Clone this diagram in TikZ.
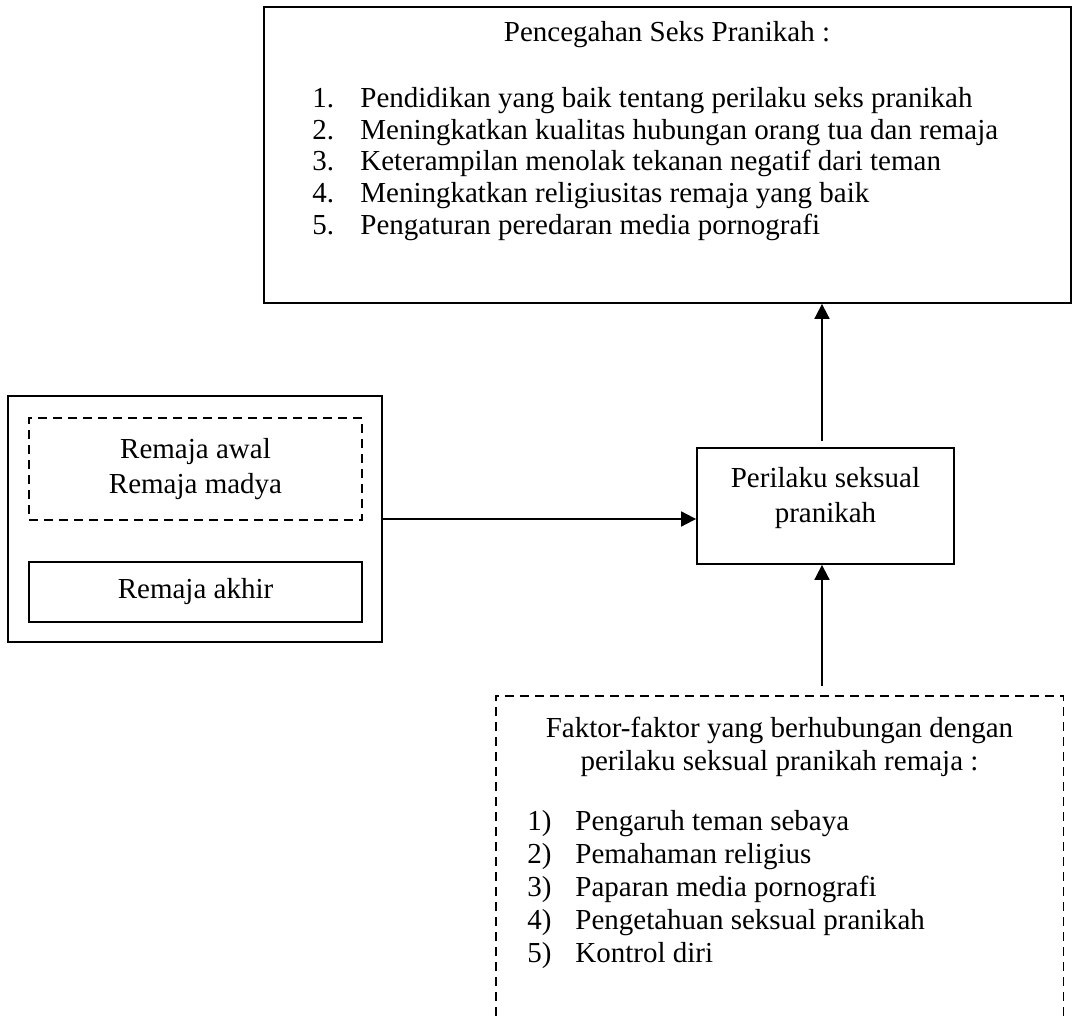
\documentclass[tikz,border=0pt]{standalone}
\usepackage{fontspec}
\setmainfont{Liberation Serif}
\usetikzlibrary{arrows.meta,positioning,calc}

\begin{document}
\begin{tikzpicture}[
    x=0.5pt, y=-0.5pt,
    font=\fontsize{14.5}{17.5}\selectfont,
    box/.style={rectangle, draw, line width=0.9pt, inner sep=0pt, align=center},
    dashline/.style={line width=0.9pt, dash pattern=on 4.5pt off 3pt},
    dashbox/.style={box, dashline},
    txt/.style={inner sep=0pt, align=left},
    arrow/.style={-{Triangle[length=7.5pt,width=7.5pt]}, line width=0.9pt}
]
    \useasboundingbox (0,0) rectangle (1072,1016);

    % --- Top: Pencegahan ---
    \node[box, minimum width=403.5pt, minimum height=148pt] (cegah) at (667.5,155) {};
    \node[txt] (cegahjudul) at (667,35) {Pencegahan Seks Pranikah :};
    \node[txt, anchor=north west, font=\fontsize{14.5}{15.85}\selectfont] (cegahlist) at (312,87) {%
        \makebox[24pt][l]{1.}Pendidikan yang baik tentang perilaku seks pranikah\\
        \makebox[24pt][l]{2.}Meningkatkan kualitas hubungan orang tua dan remaja\\
        \makebox[24pt][l]{3.}Keterampilan menolak tekanan negatif dari teman\\
        \makebox[24pt][l]{4.}Meningkatkan religiusitas remaja yang baik\\
        \makebox[24pt][l]{5.}Pengaturan peredaran media pornografi};

    % --- Left: Remaja ---
    \node[box, minimum width=187pt, minimum height=123pt] (remaja) at (195,519) {};
    \node[dashbox, minimum width=166.5pt, minimum height=51pt] (awal) at (195.5,469) {Remaja awal\\Remaja madya};
    \node[box, minimum width=166.5pt, minimum height=30pt] (akhir) at (195.5,592) {Remaja akhir};

    % --- Middle: Perilaku ---
    \node[box, minimum width=128.5pt, minimum height=58pt] (perilaku) at (825.5,506) {};
    \node[txt, align=center, anchor=north] (perilakutxt) at (825.5,467) {Perilaku seksual\\pranikah};
    \coordinate (poros) at (822,506);

    % --- Bottom: Faktor (open at the bottom) ---
    \node[inner sep=0pt, minimum width=283.5pt, minimum height=160pt] (faktor) at (779.5,856) {};
    \draw[dashline] (faktor.south west) -- (faktor.north west) -- (faktor.north east) -- (faktor.south east);
    \node[txt, align=center, anchor=north, font=\fontsize{14.5}{16.5}\selectfont] (faktorjudul) at (779.5,717)
        {Faktor-faktor yang berhubungan dengan\\perilaku seksual pranikah remaja :};
    \node[txt, anchor=north west, font=\fontsize{14.5}{16.5}\selectfont] (faktorlist) at (527,810) {%
        \makebox[24pt][l]{1)}Pengaruh teman sebaya\\
        \makebox[24pt][l]{2)}Pemahaman religius\\
        \makebox[24pt][l]{3)}Paparan media pornografi\\
        \makebox[24pt][l]{4)}Pengetahuan seksual pranikah\\
        \makebox[24pt][l]{5)}Kontrol diri};

    % --- Connectors ---
    \draw[arrow] (remaja.east) -- (remaja.east -| perilaku.west);
    \draw[arrow] ([yshift=3pt]poros |- perilaku.north) -- (poros |- cegah.south);
    \draw[arrow] ([yshift=5pt]poros |- faktor.north) -- (poros |- perilaku.south);
\end{tikzpicture}
\end{document}
